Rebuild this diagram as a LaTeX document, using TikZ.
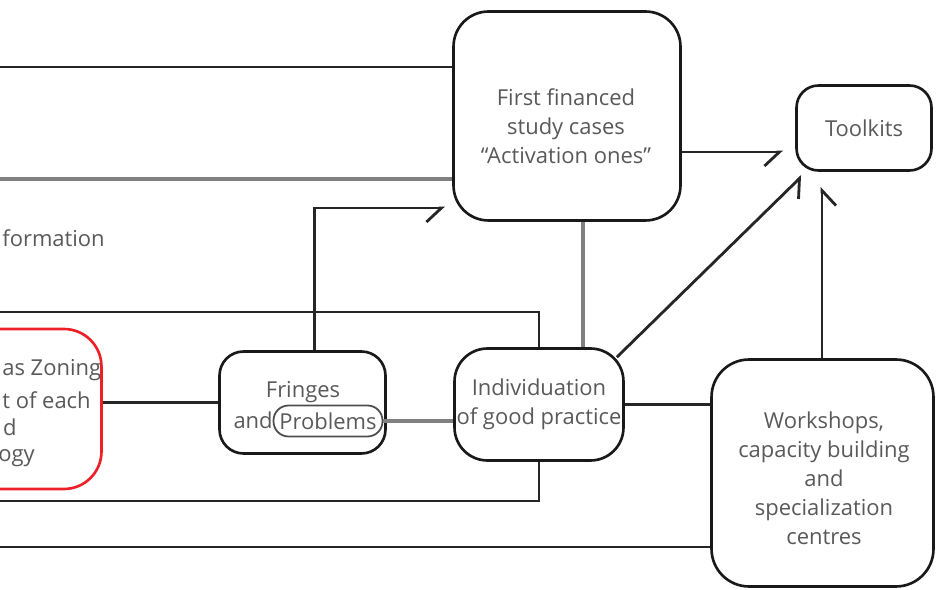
\documentclass[tikz,border=0pt]{standalone}
\usepackage{fontspec}
\setmainfont{Open Sans}
\usetikzlibrary{arrows.meta}
\definecolor{zonered}{RGB}{236,32,38}

\begin{document}
\begin{tikzpicture}[x=0.02cm,y=-0.02cm,
            txt/.style={text=black!65,inner sep=0pt,align=center,font=\fontsize{12.5}{16.5}\selectfont},
            box/.style={txt,draw=black!90,line width=1.5pt,rounded corners=#1},
            box/.default=0.5cm,
            probbox/.style={txt,draw=black!70,line width=1pt,rounded corners=0.3cm,minimum width=2.18cm,minimum height=0.62cm},
            link/.style={line width=1.6pt,draw=black!85},
            faint/.style={line width=2pt,draw=black!50},
            arr/.style={link,-{Straight Barb[harpoon,swap,length=3mm,width=5.6mm]}}]
            \useasboundingbox (0,0) rectangle (936,590);
            \node[box=0.7cm,minimum width=4.54cm,minimum height=4.18cm] (first) at (567,116) {};
            \node[txt] (firsttxt) at (566,126) {First financed\\study cases\\``Activation ones''};
            \node[box=0.44cm,minimum width=2.7cm,minimum height=1.7cm] (toolkits) at (864,128) {Toolkits};
            \node[box=0.66cm,minimum width=3.38cm,minimum height=2.24cm] (indiv) at (539,404.5) {Individuation\\of good practice};
            \node[box=0.75cm,minimum width=4.44cm,minimum height=4.54cm] (work) at (822.5,473) {};
            \node[txt] (worktxt) at (824,478) {Workshops,\\capacity building\\and\\specialization\\centres};
            \node[box=0.48cm,minimum width=3.32cm,minimum height=2.04cm] (fringes) at (302.5,402.5) {};
            \node[txt] (frtop) at (303,392) {Fringes};
            \node[txt,anchor=east] (frand) at (273,420) {and};
            \node[probbox] (prob) at (328,421) {Problems};
            \node[box=0.75cm,draw=zonered,minimum width=3.6cm,minimum height=3.2cm] (zoning) at (11.5,409) {};
            \node[txt,anchor=west] (zone1) at (2,370) {as Zoning};
            \node[txt,anchor=west] (zone2) at (2,400) {t of each};
            \node[txt,anchor=east] (zone3) at (17,427) {d};
            \node[txt,anchor=east] (zone4) at (35,458) {ogy};
            \node[txt,anchor=west] (info) at (2,238) {formation};
            \coordinate (inA) at (0,67);
            \coordinate (inB) at (0,179);
            \coordinate (inC) at (0,312);
            \coordinate (inD) at (0,501);
            \coordinate (inE) at (0,547);
            \coordinate (tipA) at (445,208);
            \coordinate (tipB) at (783,152);
            \coordinate (tipC) at (802,176);
            \coordinate (tipD) at (822,187);
            \draw[link] (inA) -- (inA -| first.west);
            \draw[faint] (inB) -- (inB -| first.west);
            \draw[arr] ([xshift=0.24cm]fringes.north) |- (tipA);
            \draw[link] (inC) -| (indiv.north);
            \draw[link] (inD) -| (indiv.south);
            \draw[link] (inE) -- (inE -| work.west);
            \draw[faint] ([xshift=0.32cm]first.south) -- ([xshift=0.32cm]first.south |- indiv.north);
            \draw[arr] (tipB -| first.east) -- (tipB);
            \draw[arr] ([xshift=-0.16cm,yshift=-0.2cm]indiv.north east) -- (tipC);
            \draw[arr] (work.north -| tipD) -- (tipD);
            \draw[link] (indiv.east) -- (indiv.east -| work.west);
            \draw[faint] (prob.east) -- (prob.east -| indiv.west);
            \draw[link] (fringes.west) -- (fringes.west -| zoning.east);
        \end{tikzpicture}
\end{document}
